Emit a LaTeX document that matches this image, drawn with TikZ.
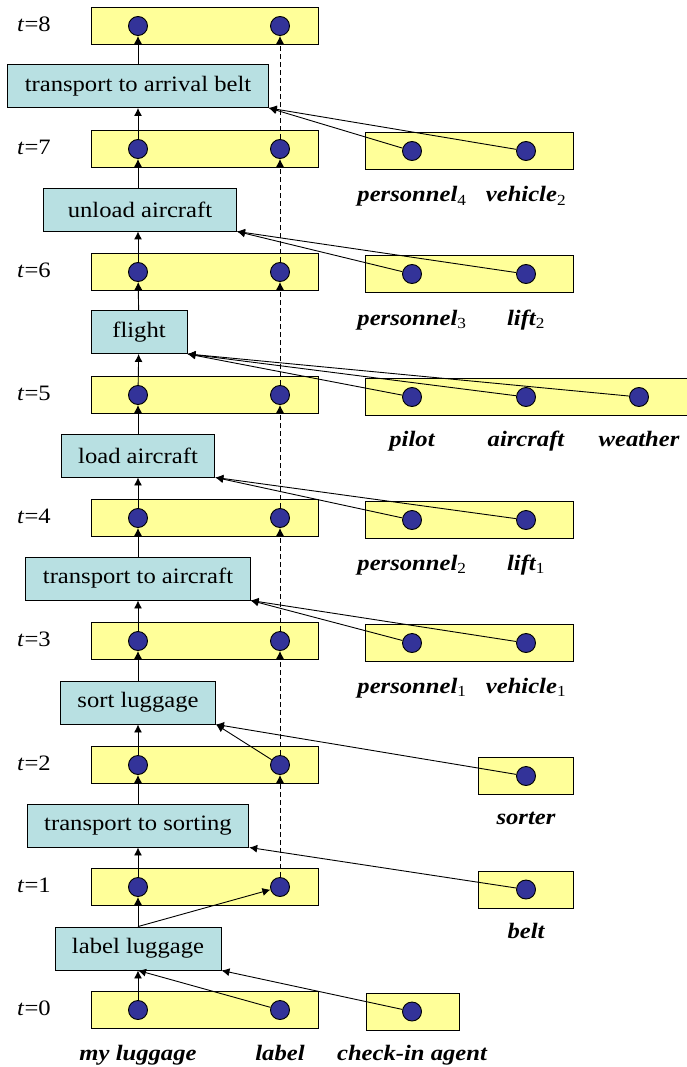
\documentclass[tikz,border=0pt]{standalone}
\usepackage{fontspec}
\setmainfont[FakeStretch=1.12]{Liberation Serif}
\usetikzlibrary{arrows.meta}

\definecolor{slotyellow}{RGB}{255,255,153}
\definecolor{actblue}{RGB}{184,224,226}
\definecolor{varblue}{RGB}{51,51,153}

\newcommand{\idx}[1]{\textsubscript{\normalfont #1}}

\tikzset{
  slot/.style={draw, fill=slotyellow, minimum height=37pt, inner sep=0pt},
  var/.style={circle, draw, fill=varblue, minimum size=19pt, inner sep=0pt},
  act/.style={draw, fill=actblue, minimum height=43pt, inner xsep=17pt, inner ysep=0pt},
  varname/.style={anchor=base, font=\fontsize{22}{26}\selectfont\bfseries\itshape},
}

\begin{document}
\begin{tikzpicture}[x=1pt, y=-1pt, >={Latex[length=8pt,width=8pt]}, line width=0.9pt,
    font=\fontsize{22}{26}\selectfont]
    \useasboundingbox (0,0) rectangle (686,1067);
    % time slices of luggage and label
    \node[slot, minimum width=227pt] (s8) at (204.5, 26) {};
    \node[var] (m8) at (138, 26) {}; \node[var] (l8) at (280, 26) {};
    \node (t8) at (34, 24) {\textit{t}=8};
    \node[slot, minimum width=227pt] (s7) at (204.5, 149) {};
    \node[var] (m7) at (138, 149) {}; \node[var] (l7) at (280, 149) {};
    \node (t7) at (34, 147) {\textit{t}=7};
    \node[slot, minimum width=227pt] (s6) at (204.5, 272) {};
    \node[var] (m6) at (138, 272) {}; \node[var] (l6) at (280, 272) {};
    \node (t6) at (34, 270) {\textit{t}=6};
    \node[slot, minimum width=227pt] (s5) at (204.5, 395) {};
    \node[var] (m5) at (138, 395) {}; \node[var] (l5) at (280, 395) {};
    \node (t5) at (34, 393) {\textit{t}=5};
    \node[slot, minimum width=227pt] (s4) at (204.5, 518) {};
    \node[var] (m4) at (138, 518) {}; \node[var] (l4) at (280, 518) {};
    \node (t4) at (34, 516) {\textit{t}=4};
    \node[slot, minimum width=227pt] (s3) at (204.5, 641) {};
    \node[var] (m3) at (138, 641) {}; \node[var] (l3) at (280, 641) {};
    \node (t3) at (34, 639) {\textit{t}=3};
    \node[slot, minimum width=227pt] (s2) at (204.5, 765) {};
    \node[var] (m2) at (138, 765) {}; \node[var] (l2) at (280, 765) {};
    \node (t2) at (34, 763) {\textit{t}=2};
    \node[slot, minimum width=227pt] (s1) at (204.5, 887) {};
    \node[var] (m1) at (138, 887) {}; \node[var] (l1) at (280, 887) {};
    \node (t1) at (34, 885) {\textit{t}=1};
    \node[slot, minimum width=227pt] (s0) at (204.5, 1010) {};
    \node[var] (m0) at (138, 1010) {}; \node[var] (l0) at (280, 1010) {};
    \node (t0) at (34, 1008) {\textit{t}=0};
    \node[varname] at (138, 1060) {my luggage};
    \node[varname] at (280, 1060) {label};
    % actions
    \node[act] (arrival) at (138, 86) {transport to arrival belt};
    \node[act, minimum width=193pt] (unload) at (140, 209.5) {unload aircraft};
    \node[act, minimum width=96pt] (flight) at (139, 332) {flight};
    \node[act] (load) at (138, 455.5) {load aircraft};
    \node[act] (toplane) at (138, 578.5) {transport to aircraft};
    \node[act] (sort) at (138, 702.5) {sort luggage};
    \node[act] (tosort) at (138, 825.5) {transport to sorting};
    \node[act] (labelling) at (138, 948.5) {label luggage};
    % resources
    \node[slot, minimum width=208pt] (r7) at (469, 151) {};
    \node[var] (pers4) at (412, 151) {}; \node[var] (veh2) at (526, 151) {};
    \node[varname] at (412, 202) {personnel\idx{4}};
    \node[varname] at (526, 202) {vehicle\idx{2}};
    \node[slot, minimum width=208pt] (r6) at (469, 274) {};
    \node[var] (pers3) at (412, 274) {}; \node[var] (lift2) at (526, 274) {};
    \node[varname] at (412, 325) {personnel\idx{3}};
    \node[varname] at (526, 325) {lift\idx{2}};
    \node[slot, minimum width=335pt] (r5) at (532.5, 397) {};
    \node[var] (pilot) at (412, 397) {}; \node[var] (plane) at (526, 397) {};
    \node[var] (weather) at (639, 397) {};
    \node[varname] at (412, 446) {pilot};
    \node[varname] at (526, 446) {aircraft};
    \node[varname] at (639, 446) {weather};
    \node[slot, minimum width=208pt] (r4) at (469, 520) {};
    \node[var] (pers2) at (412, 520) {}; \node[var] (lift1) at (526, 520) {};
    \node[varname] at (412, 570) {personnel\idx{2}};
    \node[varname] at (526, 570) {lift\idx{1}};
    \node[slot, minimum width=208pt] (r3) at (469, 643) {};
    \node[var] (pers1) at (412, 643) {}; \node[var] (veh1) at (526, 643) {};
    \node[varname] at (412, 693) {personnel\idx{1}};
    \node[varname] at (526, 693) {vehicle\idx{1}};
    \node[slot, minimum width=95pt] (r2) at (525.5, 776) {};
    \node[var] (sorter) at (526, 776) {};
    \node[varname] at (526, 824) {sorter};
    \node[slot, minimum width=95pt] (r1) at (525.5, 889.5) {};
    \node[var] (belt) at (526, 889.5) {};
    \node[varname] at (526, 938) {belt};
    \node[slot, minimum width=93pt] (r0) at (412.5, 1011.5) {};
    \node[var] (agent) at (412, 1011.5) {};
    \node[varname] at (412, 1060) {check-in agent};
    % luggage chain
    \draw[->] (m0) -- (labelling); \draw[->] (labelling) -- (m1);
    \draw[->] (m1) -- (tosort); \draw[->] (tosort) -- (m2);
    \draw[->] (m2) -- (sort); \draw[->] (sort) -- (m3);
    \draw[->] (m3) -- (toplane); \draw[->] (toplane) -- (m4);
    \draw[->] (m4) -- (load); \draw[->] (load) -- (m5);
    \draw[->] (m5) -- (flight); \draw[->] (flight) -- (m6);
    \draw[->] (m6) -- (unload.south -| m6); \draw[->] (unload.north -| m7) -- (m7);
    \draw[->] (m7) -- (arrival); \draw[->] (arrival) -- (m8);
    % label chain
    \draw[->] (l0) -- (labelling.south); \draw[->] (labelling.north) -- (l1);
    \draw[->] (l2) -- (sort.south east);
    \draw[->, dash pattern=on 5pt off 3pt] (l1) -- (l2);
    \draw[->, dash pattern=on 5pt off 3pt] (l2) -- (l3);
    \draw[->, dash pattern=on 5pt off 3pt] (l3) -- (l4);
    \draw[->, dash pattern=on 5pt off 3pt] (l4) -- (l5);
    \draw[->, dash pattern=on 5pt off 3pt] (l5) -- (l6);
    \draw[->, dash pattern=on 5pt off 3pt] (l6) -- (l7);
    \draw[->, dash pattern=on 5pt off 3pt] (l7) -- (l8);
    % resources used
    \draw[->] (agent) -- (labelling.south east);
    \draw[->] (belt) -- (tosort.south east);
    \draw[->] (sorter) -- (sort.south east);
    \draw[->] (pers1) -- (toplane.south east); \draw[->] (veh1) -- (toplane.south east);
    \draw[->] (pers2) -- (load.south east); \draw[->] (lift1) -- (load.south east);
    \draw[->] (pilot) -- (flight.south east); \draw[->] (plane) -- (flight.south east);
    \draw[->] (weather) -- (flight.south east);
    \draw[->] (pers3) -- (unload.south east); \draw[->] (lift2) -- (unload.south east);
    \draw[->] (pers4) -- (arrival.south east); \draw[->] (veh2) -- (arrival.south east);
\end{tikzpicture}
\end{document}
